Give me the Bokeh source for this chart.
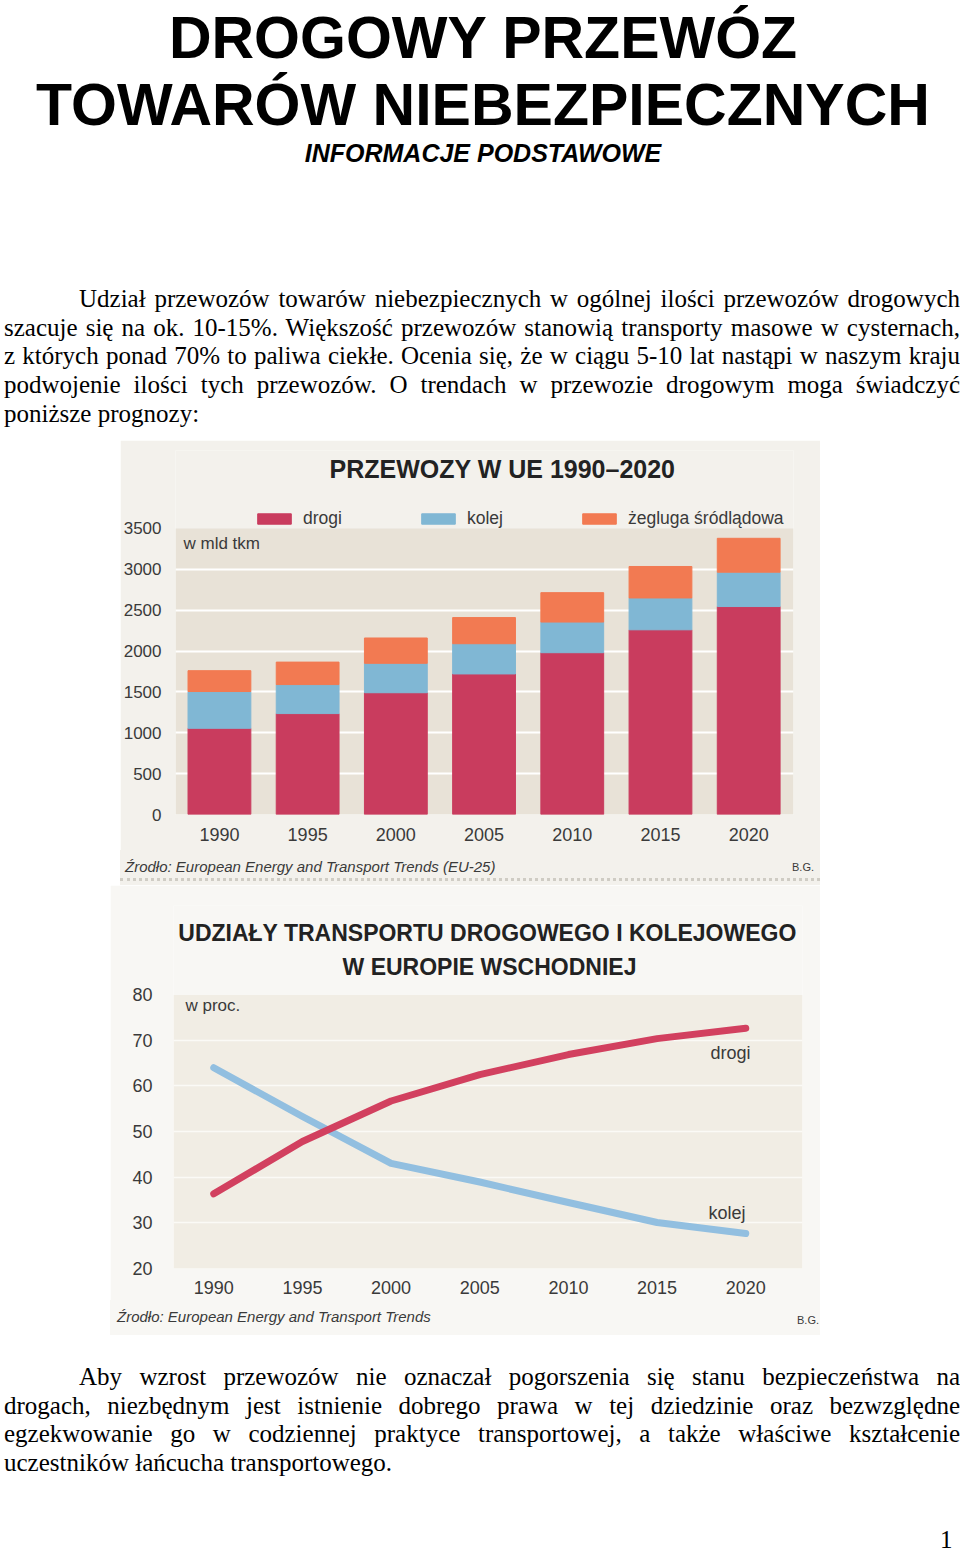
from bokeh.plotting import figure
from bokeh.models import (ColumnDataSource, Label, FixedTicker, Div, Spacer, Range1d,
                          Legend, LegendItem, BoxAnnotation)
from bokeh.layouts import row, column
from bokeh.embed import file_html
from bokeh.resources import INLINE

# ---------------- data ----------------
years = [1990, 1995, 2000, 2005, 2010, 2015, 2020]
drogi_tkm = [1055, 1235, 1490, 1720, 1980, 2260, 2545]
kolej_tkm = [450, 355, 360, 370, 375, 390, 420]
zegluga_tkm = [255, 275, 310, 320, 360, 385, 415]
tkm_ticks = [0, 500, 1000, 1500, 2000, 2500, 3000, 3500]
series_names = ["drogi", "kolej", "żegluga śródlądowa"]

share_years = [1990, 1995, 2000, 2005, 2010, 2015, 2020]
drogi_share = [36.3, 47.8, 56.7, 62.5, 66.9, 70.4, 72.7]
kolej_share = [64.0, 53.3, 43.0, 38.9, 34.4, 30.0, 27.6]
share_ticks = [20, 30, 40, 50, 60, 70, 80]

title_lines = ["DROGOWY PRZEWÓZ", "TOWARÓW NIEBEZPIECZNYCH"]
subtitle = "INFORMACJE PODSTAWOWE"
para1 = [
    "Udział przewozów towarów niebezpiecznych w ogólnej ilości przewozów drogowych",
    "szacuje się na ok. 10-15%. Większość przewozów stanowią transporty masowe w cysternach,",
    "z których ponad 70% to paliwa ciekłe. Ocenia się, że w ciągu 5-10 lat nastąpi w naszym kraju",
    "podwojenie ilości tych przewozów. O trendach w przewozie drogowym moga świadczyć",
    "poniższe prognozy:",
]
para2 = [
    "Aby wzrost przewozów nie oznaczał pogorszenia się stanu bezpieczeństwa na",
    "drogach, niezbędnym jest istnienie dobrego prawa w tej dziedzinie oraz bezwzględne",
    "egzekwowanie go w codziennej praktyce transportowej, a także właściwe kształcenie",
    "uczestników łańcucha transportowego.",
]
chart1_title = "PRZEWOZY W UE 1990–2020"
chart1_unit = "w mld tkm"
chart1_source = "Źrodło: European Energy and Transport Trends (EU-25)"
chart2_title = ["UDZIAŁY TRANSPORTU DROGOWEGO I KOLEJOWEGO", "W EUROPIE WSCHODNIEJ"]
chart2_unit = "w proc."
chart2_source = "Źrodło: European Energy and Transport Trends"
author = "B.G."
page_no = "1"

C_ROAD = "#c93c5e"
C_RAIL = "#80b7d4"
C_WATER = "#f27a52"
C_LROAD = "#d2405f"
C_LRAIL = "#92bfe0"
TXT = "#3a3a3a"
BG1 = "#f3f1ec"
PLOT1 = "#e8e2d7"
BG2 = "#f8f7f4"
PLOT2 = "#f1ede4"
SANS = "Liberation Sans"
SERIF = "Liberation Serif"


def text_line(txt, top, left, width, justify, size=25, font=SERIF, extra="", lh=None):
    al = "text-align:justify;text-align-last:justify;" if justify else "text-align:left;white-space:nowrap;"
    lh = size if lh is None else lh
    return (f'<div style="position:absolute;top:{top}px;left:{left}px;width:{width}px;'
            f'font-family:\'{font}\';font-size:{size}px;line-height:{lh}px;{al}{extra}">{txt}</div>')


def para_block(lines, tops):
    out = []
    for i, (t, tp) in enumerate(zip(lines, tops)):
        if i == 0:
            out.append(text_line(t, tp, 79, 881, True))
        elif i == len(lines) - 1:
            out.append(text_line(t, tp, 4, 956, False))
        else:
            out.append(text_line(t, tp, 4, 956, True))
    return out


def style_axis(ax, standoff, size):
    ax.axis_line_color = None
    ax.major_tick_line_color = None
    ax.minor_tick_line_color = None
    ax.major_label_standoff = standoff
    ax.major_label_text_font = SANS
    ax.major_label_text_font_size = size
    ax.major_label_text_color = TXT


def screen_label(p, x, y, text, size, align="left", style="normal", color=TXT):
    p.add_layout(Label(x=x, y=y, x_units="screen", y_units="screen", text=text,
                       text_align=align, text_baseline="middle", text_font=SANS,
                       text_font_size=size, text_font_style=style, text_color=color))


# ---------------- top text ----------------
parts = []
parts.append(text_line(title_lines[0], 8.5, 3, 960, False, 59, SANS,
                       "font-weight:bold;text-align:center;"))
parts.append(text_line(title_lines[1], 75.5, 3, 960, False, 59, SANS,
                       "font-weight:bold;text-align:center;"))
parts.append(text_line(subtitle, 140.5, 3, 960, False, 25, SANS,
                       "font-weight:bold;font-style:italic;text-align:center;"))
parts += para_block(para1, [285.8, 314.55, 343.3, 372.05, 400.8])
top_html = ('<div style="position:relative;width:960px;height:440px;color:#000;">'
            + "".join(parts) + "</div>")
top_div = Div(text=top_html, width=960, height=440, margin=0)

# ---------------- bar chart ----------------
src1 = ColumnDataSource(dict(year=years, drogi=drogi_tkm, kolej=kolej_tkm, zegluga=zegluga_tkm))
# the frame reaches above the 3500 line so that title and legend can sit inside it
p1 = figure(width=700, height=410, x_range=Range1d(1987.51, 2022.54), y_range=Range1d(0, 4454.5),
            output_backend="svg", toolbar_location=None, title=None,
            min_border_left=53, min_border_right=27, min_border_top=10, min_border_bottom=36)
p1.background_fill_color = BG1
p1.border_fill_color = BG1
p1.outline_line_color = None
p1.add_layout(BoxAnnotation(bottom=0, top=tkm_ticks[-1], fill_color=PLOT1, fill_alpha=1,
                            line_color=None, level="image"))
rs = p1.vbar_stack(["drogi", "kolej", "zegluga"], x="year", width=3.56, source=src1,
                   color=[C_ROAD, C_RAIL, C_WATER])
p1.xgrid.visible = False
p1.ygrid.ticker = FixedTicker(ticks=tkm_ticks[1:-1])
p1.ygrid.grid_line_color = "white"
p1.ygrid.grid_line_width = 2
p1.yaxis.ticker = FixedTicker(ticks=tkm_ticks)
p1.xaxis.ticker = FixedTicker(ticks=years)
style_axis(p1.yaxis, 8, "17px")
style_axis(p1.xaxis, 7, "18px")

lg = Legend(items=[LegendItem(label=n, renderers=[r]) for n, r in zip(series_names, rs)],
            orientation="horizontal", location=(78, 285.5), glyph_width=42, glyph_height=13,
            label_standoff=8, spacing=75, padding=4, margin=0, label_height=21,
            border_line_color=None, background_fill_alpha=0,
            label_text_font=SANS, label_text_font_size="17.5px", label_text_color=TXT)
p1.add_layout(lg, "center")

screen_label(p1, 327, 346, chart1_title, "25px", "center", "bold", "#222222")
screen_label(p1, 8, 271, chart1_unit, "17px")

src1_html = ('<div style="position:relative;width:700px;height:35px;overflow:hidden;">'
             + text_line(chart1_source, 17, 5, 600, False, 15, SANS,
                         f"font-style:italic;color:{TXT};", 0)
             + text_line(author, 17, 672, 26, False, 11, SANS, f"color:{TXT};", 0)
             + '<div style="position:absolute;left:0;top:28px;width:700px;height:0;'
               'border-top:3px dotted #cfccc4;"></div>'
             + "</div>")
src1_div = Div(text=src1_html, width=700, height=35, margin=0,
               styles={"background-color": BG1})

# ---------------- line chart ----------------
src2 = ColumnDataSource(dict(year=share_years, drogi=drogi_share, kolej=kolej_share))
p2 = figure(width=710, height=415, x_range=Range1d(1987.73, 2023.2), y_range=Range1d(19.9, 99.65),
            output_backend="svg", toolbar_location=None, title=None,
            min_border_left=63, min_border_right=18, min_border_top=20, min_border_bottom=32)
p2.background_fill_color = BG2
p2.border_fill_color = BG2
p2.outline_line_color = None
p2.add_layout(BoxAnnotation(top=share_ticks[-1], fill_color=PLOT2, fill_alpha=1,
                            line_color=None, level="image"))
p2.line("year", "kolej", source=src2, line_width=7, line_color=C_LRAIL, line_cap="round", line_join="round")
p2.line("year", "drogi", source=src2, line_width=7, line_color=C_LROAD, line_cap="round", line_join="round")
p2.xgrid.visible = False
p2.ygrid.ticker = FixedTicker(ticks=share_ticks[1:-1])
p2.ygrid.grid_line_color = "#fbfaf6"
p2.ygrid.grid_line_width = 1.5
p2.yaxis.ticker = FixedTicker(ticks=share_ticks)
p2.xaxis.ticker = FixedTicker(ticks=share_years)
style_axis(p2.yaxis, 15, "18px")
style_axis(p2.xaxis, 6, "18px")

screen_label(p2, 314, 336, chart2_title[0], "23px", "center", "bold", "#222222")
screen_label(p2, 316, 302, chart2_title[1], "23px", "center", "bold", "#222222")
screen_label(p2, 12, 263, chart2_unit, "17px")
screen_label(p2, 537, 216, series_names[0], "18px")
screen_label(p2, 535, 56, series_names[1], "18px")

src2_html = ('<div style="position:relative;width:710px;height:35px;overflow:hidden;">'
             + text_line(chart2_source, 17, 7, 600, False, 15, SANS,
                         f"font-style:italic;color:{TXT};", 0)
             + text_line(author, 20, 687, 22, False, 11, SANS, f"color:{TXT};", 0)
             + "</div>")
src2_div = Div(text=src2_html, width=710, height=35, margin=0,
               styles={"background-color": BG2})

# ---------------- bottom text ----------------
parts = para_block(para2, [29.1, 57.6, 86.1, 114.6])
parts.append(text_line(page_no, 204.6, 940, 16, False, 25, SERIF, "", 0))
bot_html = ('<div style="position:relative;width:960px;height:216px;color:#000;">'
            + "".join(parts) + "</div>")
bot_div = Div(text=bot_html, width=960, height=216, margin=0)

layout = column(
    top_div,
    row(Spacer(width=120, height=445, margin=0), column(p1, src1_div, spacing=0), spacing=0),
    row(Spacer(width=110, height=450, margin=0), column(p2, src2_div, spacing=0), spacing=0),
    bot_div,
    spacing=0,
)

open("out.html", "w").write(file_html(layout, INLINE))
